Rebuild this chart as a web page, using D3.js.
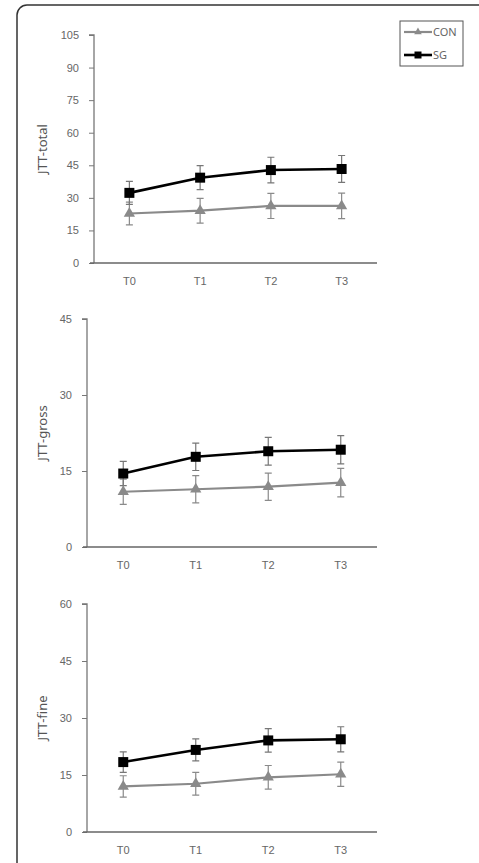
<!DOCTYPE html>
<html><head><meta charset="utf-8">
<script src="https://cdn.jsdelivr.net/npm/d3@7"></script>
<style>body{margin:0;background:#fff;}svg{display:block;font-family:"Noto Sans",sans-serif;}</style>
</head><body>
<svg id="c" width="479" height="863"></svg>
<script>
const categories = ["T0","T1","T2","T3"];
const seriesNames = ["CON","SG"];

const totalCON = [22.8, 24.1, 26.3, 26.3];
const totalCONerr = [5.2, 5.7, 5.8, 5.9];
const totalSG = [32.3, 39.3, 42.8, 43.3];
const totalSGerr = [5.3, 5.5, 5.9, 6.2];

const grossCON = [10.9, 11.4, 11.9, 12.7];
const grossCONerr = [2.5, 2.7, 2.7, 2.8];
const grossSG = [14.5, 17.8, 18.9, 19.2];
const grossSGerr = [2.4, 2.7, 2.75, 2.8];

const fineCON = [12.0, 12.7, 14.4, 15.2];
const fineCONerr = [2.8, 3.0, 3.1, 3.2];
const fineSG = [18.4, 21.6, 24.1, 24.4];
const fineSGerr = [2.7, 2.9, 3.1, 3.3];

const totalTicks = [0,15,30,45,60,75,90,105];
const grossTicks = [0,15,30,45];
const fineTicks = [0,15,30,45,60];
const yLabels = ["JTT-total","JTT-gross","JTT-fine"];

const svg = d3.select("#c");

// outer frame
svg.append("rect").attr("x",17).attr("y",5).attr("width",520).attr("height",920)
  .attr("rx",10).attr("fill","none").attr("stroke","#333").attr("stroke-width",1.5);

const panels = [
  {label:yLabels[0], ticks:totalTicks, con:totalCON, conErr:totalCONerr, sg:totalSG, sgErr:totalSGerr, x0:94, top:35, bottom:263},
  {label:yLabels[1], ticks:grossTicks, con:grossCON, conErr:grossCONerr, sg:grossSG, sgErr:grossSGerr, x0:87, top:319, bottom:547},
  {label:yLabels[2], ticks:fineTicks, con:fineCON, conErr:fineCONerr, sg:fineSG, sgErr:fineSGerr, x0:87, top:604, bottom:832}
];
const xRight = 377;

const styles = {
  CON:{line:"#8a8a8a", lw:2.2, err:"#8a8a8a"},
  SG:{line:"#000", lw:2.6, err:"#777"}
};

panels.forEach(p => {
  const g = svg.append("g");
  const x = d3.scaleBand().domain(categories).range([p.x0, xRight]);
  const y = d3.scaleLinear().domain([0, d3.max(p.ticks)]).range([p.bottom, p.top]);

  const ya = g.append("g").attr("transform",`translate(${p.x0},0)`)
    .call(d3.axisLeft(y).tickValues(p.ticks).tickSize(5).tickPadding(10).tickFormat(d3.format("d")));
  ya.select(".domain").attr("stroke","#777").attr("stroke-width",1.3).attr("d",`M-5,${p.top}H0V${p.bottom}`);
  ya.selectAll(".tick line").attr("stroke","#777");
  ya.selectAll(".tick text").attr("fill","#666").attr("font-size",11);

  const xa = g.append("g").attr("transform",`translate(0,${p.bottom})`)
    .call(d3.axisBottom(x).tickSize(0).tickPadding(14));
  xa.select(".domain").attr("stroke","#666").attr("stroke-width",1.3).attr("d",`M${p.x0-4},0H${xRight}`);
  xa.selectAll(".tick text").attr("fill","#666").attr("font-size",11);

  g.append("text").attr("transform",`translate(47,${(p.top+p.bottom)/2}) rotate(-90)`)
    .attr("text-anchor","middle").attr("fill","#555").attr("font-size",13).text(p.label);

  const cx = d => x(d) + x.bandwidth()/2;
  const series = [
    {name:"CON", vals:p.con, errs:p.conErr},
    {name:"SG", vals:p.sg, errs:p.sgErr}
  ];
  series.forEach(s => {
    const st = styles[s.name];
    const eg = g.append("g");
    categories.forEach((c,i) => {
      const hi = y(s.vals[i]+s.errs[i]), lo = y(s.vals[i]-s.errs[i]);
      eg.append("path").attr("d",`M${cx(c)},${hi}V${lo}M${cx(c)-3.5},${hi}H${cx(c)+3.5}M${cx(c)-3.5},${lo}H${cx(c)+3.5}`)
        .attr("stroke",st.err).attr("stroke-width",1.2).attr("fill","none");
    });
  });
  series.forEach(s => {
    const st = styles[s.name];
    const line = d3.line().x((d,i)=>cx(categories[i])).y(d=>y(d));
    g.append("path").datum(s.vals).attr("d",line).attr("fill","none")
      .attr("stroke",st.line).attr("stroke-width",st.lw);
    const sym = s.name==="SG" ? d3.symbol().type(d3.symbolSquare).size(100) : d3.symbol().type(d3.symbolTriangle).size(55);
    g.selectAll(null).data(s.vals).join("path")
      .attr("transform",(d,i)=>`translate(${cx(categories[i])},${y(d)})`)
      .attr("d",sym).attr("fill",st.line);
  });
});

// legend
const lg = svg.append("g");
lg.append("rect").attr("x",400).attr("y",21).attr("width",63).attr("height",45)
  .attr("fill","none").attr("stroke","#555").attr("stroke-width",1);
seriesNames.forEach((n,i) => {
  const yy = 32 + i*23;
  const st = styles[n];
  lg.append("line").attr("x1",404).attr("x2",432).attr("y1",yy).attr("y2",yy)
    .attr("stroke",st.line).attr("stroke-width",st.lw);
  const sym = n==="SG" ? d3.symbol().type(d3.symbolSquare).size(49) : d3.symbol().type(d3.symbolTriangle).size(25);
  lg.append("path").attr("transform",`translate(418,${yy})`).attr("d",sym).attr("fill",st.line);
  lg.append("text").attr("x",433).attr("y",yy).attr("dy","0.35em").attr("fill","#666").attr("font-size",11).text(n);
});
</script>
</body></html>
